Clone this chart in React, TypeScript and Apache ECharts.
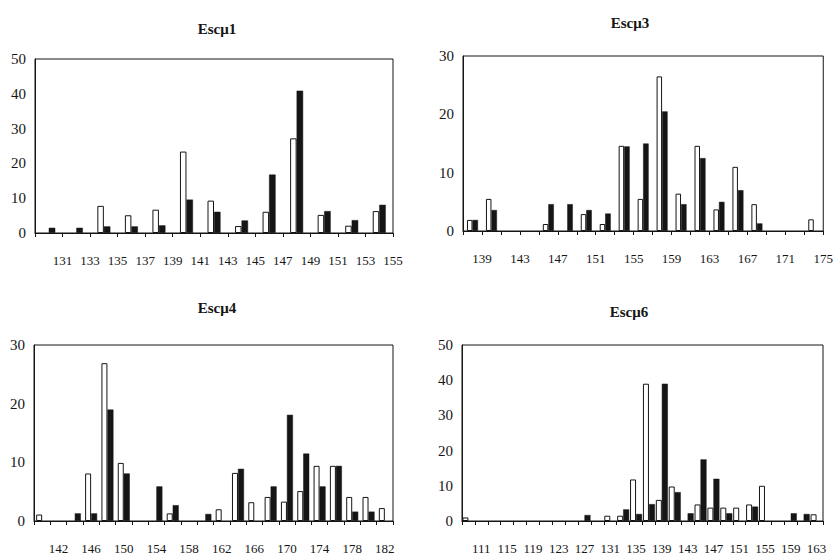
import React, { useEffect, useRef } from "react";
import * as echarts from "echarts";

// ---- Escμ1 ----
const P1_BINS = [130, 132, 134, 136, 138, 140, 142, 144, 146, 148, 150, 152, 154];
const P1_WHITE = [0, 0, 7.8, 5.1, 6.7, 23.4, 9.3, 2.0, 6.1, 27.2, 5.2, 2.1, 6.3];
const P1_BLACK = [1.5, 1.5, 1.9, 1.9, 2.2, 9.6, 6.1, 3.6, 16.8, 40.9, 6.3, 3.7, 8.1];
const P1_LABELS = [131, 133, 135, 137, 139, 141, 143, 145, 147, 149, 151, 153, 155];
const P1_YMAX = 50;

// ---- Escμ3 ----
const P2_BINS = [138, 140, 142, 144, 146, 148, 150, 152, 154, 156, 158, 160, 162, 164, 166, 168, 170, 172, 174];
const P2_WHITE = [1.9, 5.5, 0, 0, 1.2, 0, 2.9, 1.2, 14.6, 5.5, 26.5, 6.4, 14.6, 3.7, 11.0, 4.6, 0, 0, 2.0];
const P2_BLACK = [1.9, 3.6, 0, 0, 4.6, 4.6, 3.6, 3.0, 14.5, 15.0, 20.5, 4.6, 12.5, 5.0, 7.0, 1.3, 0, 0, 0];
const P2_LABELS = [139, 143, 147, 151, 155, 159, 163, 167, 171, 175];
const P2_YMAX = 30;

// ---- Escμ4 ----
const P3_BINS = [140, 142, 144, 146, 148, 150, 152, 154, 156, 158, 160, 162, 164, 166, 168, 170, 172, 174, 176, 178, 180, 182];
const P3_WHITE = [1.1, 0, 0, 8.1, 26.9, 9.9, 0, 0, 1.3, 0, 0, 2.0, 8.2, 3.2, 4.1, 3.3, 5.1, 9.4, 9.4, 4.1, 4.1, 2.2];
const P3_BLACK = [0, 0, 1.3, 1.3, 19.0, 8.1, 0, 5.9, 2.7, 0, 1.2, 0, 8.9, 0, 5.9, 18.1, 11.5, 5.9, 9.4, 1.6, 1.6, 0];
const P3_LABELS = [142, 146, 150, 154, 158, 162, 166, 170, 174, 178, 182];
const P3_YMAX = 30;

// ---- Escμ6 ----
const P4_BINS = [109, 111, 113, 115, 117, 119, 121, 123, 125, 127, 129, 131, 133, 135, 137, 139, 141, 143, 145, 147, 149, 151, 153, 155, 157, 159, 161, 163];
const P4_WHITE = [1.0, 0, 0, 0, 0, 0, 0, 0, 0, 0, 0, 1.5, 1.5, 11.8, 39.0, 6.0, 9.8, 0, 4.7, 3.8, 3.8, 3.8, 4.7, 10.0, 0, 0, 0, 1.9];
const P4_BLACK = [0, 0, 0, 0, 0, 0, 0, 0, 0, 1.7, 0, 0, 3.3, 2.0, 4.8, 39.0, 8.2, 2.2, 17.5, 12.0, 2.2, 0, 4.1, 0, 0, 2.2, 2.0, 0];
const P4_LABELS = [111, 115, 119, 123, 127, 131, 135, 139, 143, 147, 151, 155, 159, 163];
const P4_YMAX = 50;

const TITLES = ["Escμ1", "Escμ3", "Escμ4", "Escμ6"];

const SERIF = "'Liberation Serif', 'DejaVu Serif', serif";
const INK = "#151515";

type Panel = {
  bins: number[];
  white: number[];
  black: number[];
  labels: number[];
  ymax: number;
  grid: { left: number; top: number; width: number; height: number };
  barWidth: number;
  title: { x: number; y: number };
};

const PANELS: Panel[] = [
  { bins: P1_BINS, white: P1_WHITE, black: P1_BLACK, labels: P1_LABELS, ymax: P1_YMAX,
    grid: { left: 35, top: 59, width: 358, height: 174 }, barWidth: 6.5, title: { x: 212, y: 16 } },
  { bins: P2_BINS, white: P2_WHITE, black: P2_BLACK, labels: P2_LABELS, ymax: P2_YMAX,
    grid: { left: 463, top: 56, width: 361, height: 175 }, barWidth: 5.5, title: { x: 625, y: 10 } },
  { bins: P3_BINS, white: P3_WHITE, black: P3_BLACK, labels: P3_LABELS, ymax: P3_YMAX,
    grid: { left: 34, top: 345, width: 359, height: 176 }, barWidth: 6, title: { x: 212, y: 295 } },
  { bins: P4_BINS, white: P4_WHITE, black: P4_BLACK, labels: P4_LABELS, ymax: P4_YMAX,
    grid: { left: 462, top: 345, width: 361, height: 176 }, barWidth: 6, title: { x: 624, y: 299 } },
];

// zero-count bins draw nothing
const show = (v: number) => (v === 0 ? null : v);

export default function App() {
  const ref = useRef<HTMLDivElement>(null);

  useEffect(() => {
    if (!ref.current) return;
    const chart = echarts.init(ref.current, undefined, { renderer: "svg" });

    const grids: any[] = [];
    const xAxes: any[] = [];
    const yAxes: any[] = [];
    const series: any[] = [];
    const titles: any[] = [];

    PANELS.forEach((p, i) => {
      const step = p.bins[1] - p.bins[0];
      const xmin = p.bins[0] - step / 2;
      const xmax = p.bins[p.bins.length - 1] + step / 2;
      const ticks = [xmin, ...p.bins.map((b) => b + step / 2)];

      grids.push({
        ...p.grid,
        show: true,
        borderColor: INK,
        borderWidth: 1,
        backgroundColor: "transparent",
        containLabel: false,
      });

      titles.push({
        text: TITLES[i],
        left: p.title.x,
        top: p.title.y,
        textAlign: "center",
        textStyle: { fontFamily: SERIF, fontWeight: "bold", fontSize: 15, color: INK },
      });

      xAxes.push({
        type: "value",
        gridIndex: i,
        min: xmin,
        max: xmax,
        splitLine: { show: false },
        axisLine: { show: true, onZero: false, lineStyle: { color: INK, width: 1 } },
        axisTick: {
          show: true,
          customValues: ticks,
          length: 4,
          inside: false,
          lineStyle: { color: INK, width: 1 },
        },
        axisLabel: {
          show: true,
          customValues: p.labels,
          formatter: (v: number) => String(Math.round(v)),
          margin: 21,
          fontFamily: SERIF,
          fontSize: 13,
          color: INK,
          showMinLabel: true,
          showMaxLabel: true,
        },
      });

      yAxes.push({
        type: "value",
        gridIndex: i,
        min: 0,
        max: p.ymax,
        interval: 10,
        splitLine: { show: false },
        axisLine: { show: true, lineStyle: { color: INK, width: 1 } },
        axisTick: { show: false },
        axisLabel: { margin: 9, fontFamily: SERIF, fontSize: 15, color: INK },
      });

      series.push({
        type: "bar",
        name: "white" + i,
        xAxisIndex: i,
        yAxisIndex: i,
        barWidth: p.barWidth,
        barGap: "0%",
        data: p.bins.map((b, k) => [b, show(p.white[k])]),
        itemStyle: { color: "#ffffff", borderColor: INK, borderWidth: 1 },
      });
      series.push({
        type: "bar",
        name: "black" + i,
        xAxisIndex: i,
        yAxisIndex: i,
        barWidth: p.barWidth,
        barGap: "0%",
        data: p.bins.map((b, k) => [b, show(p.black[k])]),
        itemStyle: { color: INK, borderColor: INK, borderWidth: 0.5 },
      });
    });

    chart.setOption({
      animation: false,
      backgroundColor: "#ffffff",
      title: titles,
      grid: grids,
      xAxis: xAxes,
      yAxis: yAxes,
      series,
    });

    return () => chart.dispose();
  }, []);

  return (
    <div
      ref={ref}
      style={{ position: "fixed", left: 0, top: 0, width: 836, height: 555, background: "#fff" }}
    />
  );
}
